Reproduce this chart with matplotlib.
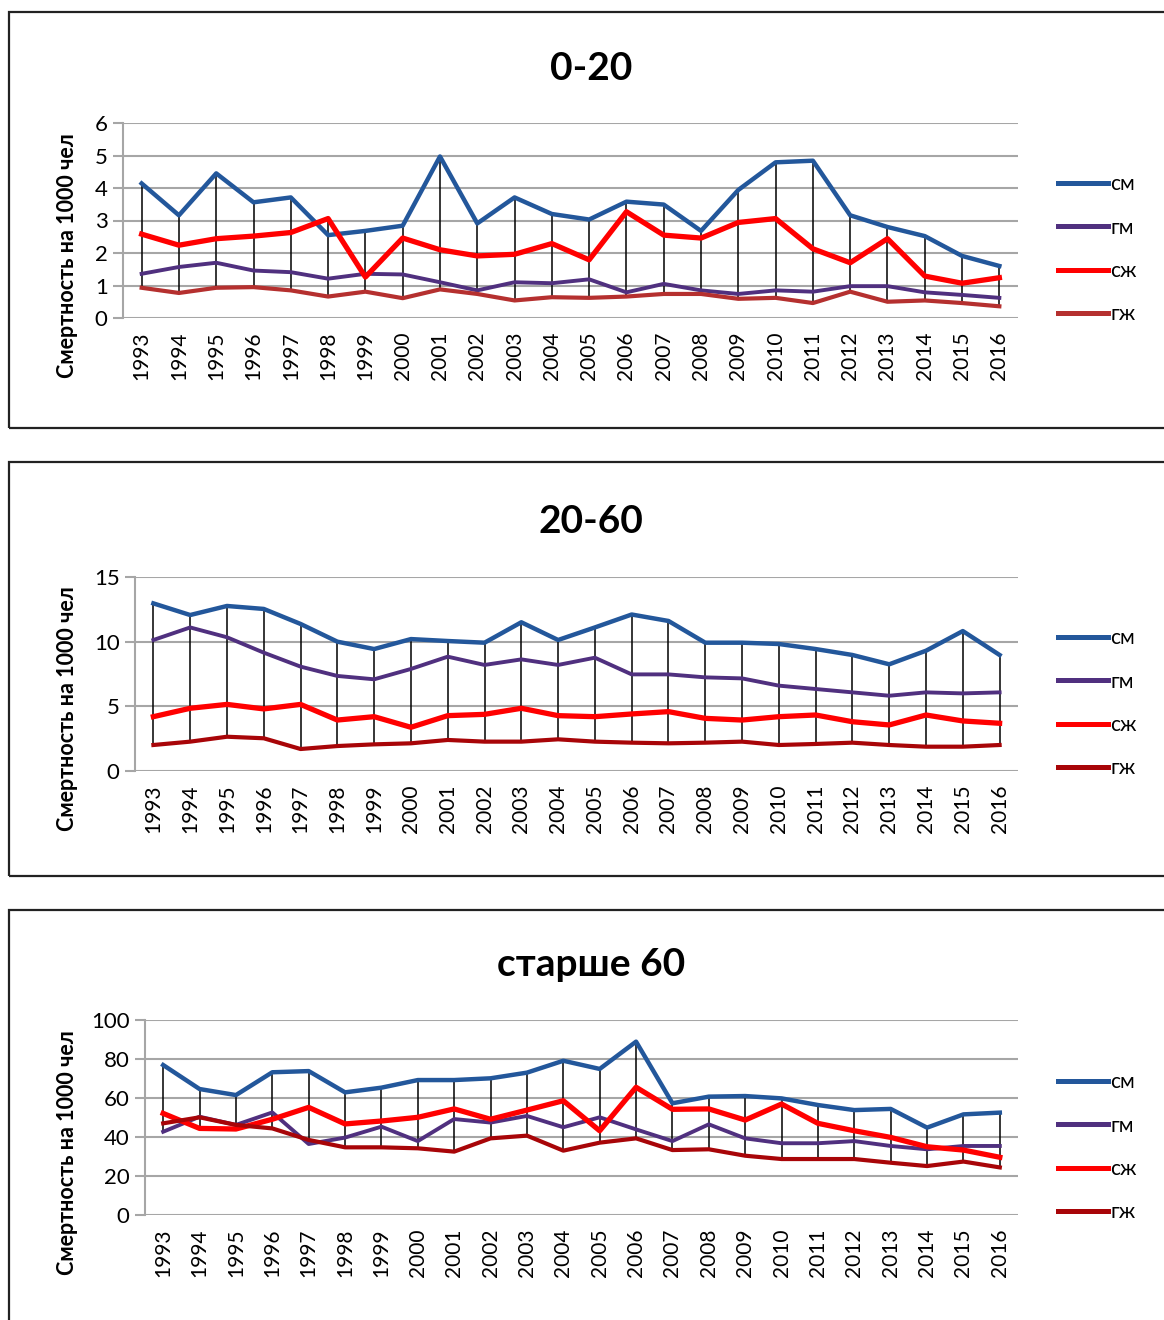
import matplotlib.pyplot as plt
from matplotlib.patches import Rectangle
from matplotlib.lines import Line2D

plt.rcParams['font.family'] = ['Lato', 'DejaVu Sans']

years = [str(y) for y in range(1993, 2017)]
labels = ['см', 'гм', 'сж', 'гж']

# 0-20
sm_0_20 = [4.14, 3.16, 4.45, 3.56, 3.71, 2.55, 2.68, 2.84, 4.97, 2.91, 3.71, 3.20,
           3.03, 3.58, 3.49, 2.68, 3.94, 4.79, 4.84, 3.16, 2.80, 2.52, 1.91, 1.60]
gm_0_20 = [1.36, 1.57, 1.70, 1.46, 1.41, 1.21, 1.36, 1.34, 1.10, 0.85, 1.10, 1.07,
           1.19, 0.79, 1.05, 0.85, 0.74, 0.85, 0.81, 0.98, 0.98, 0.79, 0.71, 0.62]
szh_0_20 = [2.58, 2.24, 2.44, 2.52, 2.63, 3.06, 1.26, 2.46, 2.10, 1.91, 1.96, 2.29,
            1.79, 3.27, 2.55, 2.46, 2.94, 3.06, 2.13, 1.70, 2.44, 1.29, 1.07, 1.24]
gzh_0_20 = [0.93, 0.77, 0.93, 0.95, 0.85, 0.66, 0.81, 0.61, 0.88, 0.74, 0.54, 0.64,
            0.62, 0.66, 0.74, 0.74, 0.59, 0.62, 0.46, 0.81, 0.50, 0.54, 0.46, 0.36]

# 20-60
sm_20_60 = [12.96, 12.06, 12.76, 12.53, 11.37, 10.0, 9.43, 10.2, 10.05, 9.92, 11.5, 10.13,
            11.1, 12.1, 11.6, 9.92, 9.92, 9.82, 9.43, 8.97, 8.25, 9.3, 10.82, 8.97]
gm_20_60 = [10.13, 11.1, 10.34, 9.15, 8.07, 7.35, 7.09, 7.89, 8.84, 8.2, 8.63, 8.2,
            8.76, 7.47, 7.47, 7.24, 7.16, 6.6, 6.34, 6.08, 5.82, 6.08, 6.0, 6.08]
szh_20_60 = [4.2, 4.85, 5.15, 4.8, 5.15, 3.94, 4.2, 3.38, 4.28, 4.38, 4.85, 4.28,
             4.2, 4.41, 4.59, 4.07, 3.94, 4.2, 4.33, 3.81, 3.56, 4.33, 3.87, 3.69]
gzh_20_60 = [2.01, 2.27, 2.65, 2.53, 1.7, 1.93, 2.06, 2.14, 2.4, 2.27, 2.27, 2.45,
             2.27, 2.19, 2.14, 2.19, 2.27, 2.01, 2.09, 2.19, 2.01, 1.88, 1.88, 2.01]

# старше 60
sm_60 = [76.9, 64.6, 61.5, 73.2, 73.8, 62.9, 65.3, 69.2, 69.2, 70.1, 73.0, 79.1,
         74.9, 88.9, 57.3, 60.7, 61.0, 59.8, 56.4, 53.8, 54.4, 44.8, 51.6, 52.5]
gm_60 = [42.7, 50.4, 46.2, 52.6, 36.4, 39.7, 45.3, 37.9, 49.2, 47.4, 50.8, 45.0,
         50.1, 43.9, 37.9, 46.5, 39.3, 36.8, 36.8, 37.9, 35.4, 33.7, 35.4, 35.4]
szh_60 = [52.1, 44.4, 44.1, 49.1, 55.2, 46.7, 48.2, 50.1, 54.4, 49.1, 53.8, 58.6,
          43.2, 65.5, 54.2, 54.4, 48.7, 56.9, 47.0, 43.2, 39.8, 35.0, 33.3, 29.6]
gzh_60 = [47.0, 50.1, 46.2, 44.4, 38.5, 34.7, 34.7, 34.2, 32.5, 39.3, 40.7, 33.0,
          37.1, 39.3, 33.3, 33.7, 30.4, 28.7, 28.7, 28.7, 26.8, 25.1, 27.4, 24.4]

W, H = 1164, 1320
fig = plt.figure(figsize=(W / 100, H / 100), dpi=100)


def fx(px):
    return px / W


def fy(py):
    return 1 - py / H


panels = [
    dict(title='0-20', series=[sm_0_20, gm_0_20, szh_0_20, gzh_0_20],
         gzh_color='#B5302F', box=(9, 12, 428), ax=(123, 123, 318), ymax=6, step=1,
         title_y=68, leg_y=182),
    dict(title='20-60', series=[sm_20_60, gm_20_60, szh_20_60, gzh_20_60],
         gzh_color='#A80508', box=(9, 462, 876), ax=(135, 577, 771), ymax=15, step=5,
         title_y=521, leg_y=636),
    dict(title='старше 60', series=[sm_60, gm_60, szh_60, gzh_60],
         gzh_color='#A80508', box=(9, 910, 1330), ax=(145, 1020, 1215), ymax=100, step=20,
         title_y=965, leg_y=1080),
]

for p in panels:
    bx, btop, bbot = p['box']
    fig.patches.append(Rectangle((fx(bx), fy(bbot)), fx(W + 10 - bx), fy(btop) - fy(bbot),
                                 transform=fig.transFigure, fill=False,
                                 edgecolor='#222222', lw=1.6))
    left, top, bottom = p['ax']
    right = 1018
    ax = fig.add_axes([fx(left), fy(bottom), fx(right - left), fy(top) - fy(bottom)])
    colors = ['#23579B', '#50307F', '#FF0000', p['gzh_color']]
    widths = [3.2, 2.8, 3.8, 3.0]
    x = list(range(len(years)))
    lows = [min(v) for v in zip(*p['series'])]
    highs = [max(v) for v in zip(*p['series'])]
    ax.vlines(x, lows, highs, color='black', lw=1.1, zorder=2)
    for vals, c, lw, lab in zip(p['series'], colors, widths, labels):
        ax.plot(x, vals, color=c, lw=lw, label=lab, zorder=3)
    ax.set_xlim(-0.5, len(years) - 0.5)
    ax.set_ylim(0, p['ymax'])
    ax.set_yticks(range(0, p['ymax'] + 1, p['step']))
    ax.set_xticks(x)
    ax.set_xticklabels(years, rotation=90, fontsize=15)
    ax.tick_params(axis='x', length=0, pad=10)
    ax.tick_params(axis='y', length=7, color='#A6A6A6', width=1.5, labelsize=16, pad=4)
    ax.grid(axis='y', color='#A6A6A6', lw=1.5)
    ax.set_axisbelow(True)
    for s in ['top', 'right', 'bottom']:
        ax.spines[s].set_visible(False)
    ax.spines['left'].set_color('#A6A6A6')
    ax.spines['left'].set_linewidth(1.5)

    fig.text(fx(591), fy(p['title_y']), p['title'], ha='center', va='center',
             fontsize=28, fontweight='bold')
    fig.text(fx(67), fy((top + bottom) / 2 + 35), 'Смертность на 1000 чел', rotation=90,
             ha='center', va='center', fontsize=15.5, fontweight='bold')

    handles = [Line2D([], [], color=c, lw=3.6) for c in colors]
    fig.legend(handles, labels, loc='upper left',
               bbox_to_anchor=(fx(1050), fy(p['leg_y'] - 16)), frameon=False,
               fontsize=15, handlelength=2.4, handletextpad=0.1, labelspacing=1.12,
               borderaxespad=0)

fig.savefig('out.png', dpi=100)
